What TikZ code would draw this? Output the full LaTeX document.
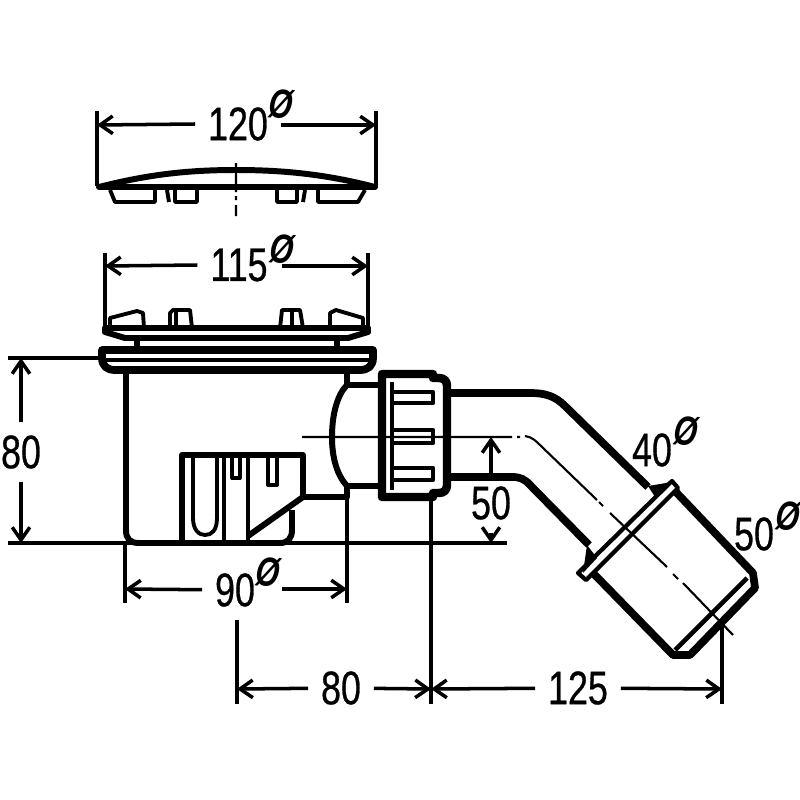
\documentclass[tikz,border=0pt]{standalone}
\usepackage{fontspec}
\newfontfamily\dimfont[FakeStretch=0.76,FakeBold=0.6]{Liberation Sans}
\setmainfont{Liberation Sans}
\usetikzlibrary{arrows.meta}

\newcommand{\dia}{\rotatebox{-8}{\scalebox{0.95}[1.3]{Ø}}}

\tikzset{
  wall/.style={line width=1.7pt, line join=round},
  pipe/.style={line width=2.2pt, line join=round},
  part/.style={line width=1.1pt, line join=round},
  dimline/.style={line width=1pt, >={Straight Barb[length=3.6pt,width=5pt]}},
  axisline/.style={line width=0.6pt},
  numlabel/.style={inner sep=3.5pt, font=\dimfont\fontsize{13.4pt}{14pt}\selectfont},
  dialabel/.style={inner sep=0pt, font=\bfseries\itshape\fontsize{9pt}{9pt}\selectfont},
}

\begin{document}
\begin{tikzpicture}[x=0.01cm, y=-0.01cm]
    \useasboundingbox (0, 0) rectangle (800, 800);

    % cover
    \draw[wall] (99, 187) .. controls (150, 174) and (190, 170) .. (236, 170)
                .. controls (282, 170) and (325, 174) .. (375, 187) -- cycle;
    \draw[part] (110, 190) -- (115, 202) -- (155, 202) -- (155, 190)
                (167, 190) -- (169, 202)
                (175, 190) -- (175, 202) -- (197, 202) -- (197, 190)
                (277, 190) -- (277, 202) -- (297, 202) -- (297, 190)
                (305, 190) -- (303, 202)
                (318, 190) -- (318, 202) -- (358, 202) -- (365, 190);

    % grate with clips
    \draw[wall] (105, 328) -- (368, 328) -- (368, 332) -- (348, 338) -- (125, 338) -- (105, 332) -- cycle;
    \draw[part] (110, 328) -- (110, 318) -- (137, 311) -- (143, 313) -- (144, 328)
                (170, 328) -- (170, 313) -- (173, 310) -- (190, 310) -- (192, 328)
                (176, 311) -- (176, 328)
                (280, 328) -- (282, 310) -- (300, 310) -- (303, 328)
                (292, 311) -- (292, 328)
                (330, 328) -- (330, 313) -- (336, 310) -- (363, 318) -- (363, 328);
    \draw[wall] (137, 338) -- (137, 348) (337, 338) -- (337, 348);

    % flange
    \draw[pipe] (102, 350) -- (373, 350) -- (373, 358)
                .. controls (373, 366) and (368, 370) .. (360, 370) -- (115, 370)
                .. controls (107, 370) and (102, 366) .. (102, 358) -- cycle;
    \draw[wall, line width=1.4pt] (106, 360) -- (369, 360);

    % body
    \draw[wall] (126, 370) -- (126, 530) .. controls (126, 539) and (130, 543) .. (139, 543)
                -- (280, 543) .. controls (288, 543) and (292, 538) .. (292, 530) -- (292, 510);
    \draw[wall] (347, 370) -- (347, 386);
    \draw[wall] (347, 486) -- (347, 497) -- (303, 497);

    % window
    \draw[wall] (182, 543) -- (182, 455) -- (303, 455) -- (303, 497) -- (248, 536);
    \draw[part] (193, 458) -- (193, 518) .. controls (193, 530) and (199, 535) .. (205, 535)
                .. controls (212, 535) and (217, 530) .. (217, 518) -- (217, 458);
    \draw[part] (224, 458) -- (224, 541) (248, 458) -- (248, 541);
    \draw[part] (232, 458) -- (232, 478) -- (240, 478) -- (240, 458)
                (268, 458) -- (268, 485) -- (277, 485) -- (277, 458);

    % bulge
    \draw[wall] (378, 385) -- (347, 385) .. controls (337, 395) and (332, 415) .. (332, 437)
                .. controls (332, 458) and (337, 475) .. (347, 486) -- (378, 486);

    % nut
    \draw[pipe, line width=2.4pt] (382, 374) -- (433, 374) -- (433, 378) -- (439, 378)
                .. controls (444, 378) and (447, 381) .. (447, 386) -- (447, 485)
                .. controls (447, 490) and (444, 493) .. (439, 493) -- (433, 493) -- (433, 497) -- (382, 497) -- cycle;
    \draw[wall, line width=1.2pt] (392, 382) -- (392, 490);
    \draw[part, line width=1.2pt] (392, 392) -- (433, 392) -- (433, 403) -- (392, 403)
                (392, 430) -- (433, 430) -- (433, 443) -- (392, 443)
                (392, 468) -- (433, 468) -- (433, 480) -- (392, 480);

    % elbow
    \draw[pipe] (451, 393) -- (530, 393) .. controls (545, 393) and (555, 396) .. (565, 406) -- (648, 487);
    \draw[pipe] (451, 477) -- (512, 477) .. controls (520, 477) and (525, 479) .. (531, 486) -- (589, 545);
    \fill (648, 486) -- (672, 482) -- (655, 497) -- cycle
          (587, 545) -- (597, 558) -- (583, 573) -- cycle;

    % socket
    \draw[wall, line width=1.2pt] (672, 481) -- (578, 573) -- (586, 580) -- (678, 488) -- cycle;
    \draw[pipe] (674, 490) -- (753, 573) -- (755, 588) -- (690, 655) -- (673, 655) -- (593, 573);
    \draw[wall, line width=1.3pt] (747, 578) -- (675, 650);

    % axis
    \draw[axisline] (302, 437) -- (512, 437)
                    (517, 437) -- (520, 437)
                    (525, 436) .. controls (532, 437) and (536, 441) .. (540, 445) -- (597, 500)
                    (599, 502) -- (603, 506)
                    (610, 513) -- (667, 567)
                    (673, 574) -- (678, 579)
                    (683, 583) -- (733, 635)
                    (236, 163) -- (236, 192)
                    (236, 196) -- (236, 200)
                    (236, 205) -- (236, 216);

    % 120
    \coordinate(l120) at (97, 125);
    \coordinate(r120) at (376, 125);
    \node[numlabel](t120) at (238, 124) {120};
    \node[dialabel](d120) at (281, 104) {\dia};
    \draw[dimline] (97, 111) -- (97, 186) (376, 111) -- (376, 186);
    \draw[dimline, ->] (t120.west) -- (l120);
    \draw[dimline, ->] (d120.south |- r120) -- (r120);

    % 115
    \coordinate(l115) at (105, 266);
    \coordinate(r115) at (368, 266);
    \node[numlabel](t115) at (239, 265) {115};
    \node[dialabel](d115) at (282, 249) {\dia};
    \draw[dimline] (105, 253) -- (105, 330) (368, 253) -- (368, 330);
    \draw[dimline, ->] (t115.west) -- (l115);
    \draw[dimline, ->] (d115.south |- r115) -- (r115);

    % 80 height
    \coordinate(a80) at (21, 358);
    \coordinate(b80) at (21, 543);
    \node[numlabel](t80) at (21, 452) {80};
    \draw[dimline] (8, 358) -- (101, 358) (8, 543) -- (507, 543);
    \draw[dimline, ->] (t80) -- (a80);
    \draw[dimline, ->] (t80) -- (b80);

    % 90
    \coordinate(l90) at (125, 589);
    \coordinate(r90) at (347, 589);
    \node[numlabel](t90) at (235, 590) {90};
    \node[dialabel](d90) at (268, 572) {\dia};
    \draw[dimline] (125, 543) -- (125, 603) (347, 497) -- (347, 603);
    \draw[dimline, ->] (t90) -- (l90);
    \draw[dimline, ->] (d90.south east |- r90) -- (r90);

    % 50 height
    \coordinate(a50) at (491, 437);
    \coordinate(b50) at (491, 543);
    \node[numlabel](t50) at (491, 503) {50};
    \draw[dimline, ->] (t50) -- (a50);
    \draw[dimline, ->] (t50) -- (b50);

    % 80 and 125
    \coordinate(l80) at (237, 689);
    \coordinate(m80) at (431, 689);
    \coordinate(r125) at (722, 689);
    \node[numlabel](t80b) at (341, 688) {80};
    \node[numlabel](t125) at (578, 688) {125};
    \draw[dimline] (237, 620) -- (237, 704) (431, 496) -- (431, 704) (722, 620) -- (722, 704);
    \draw[dimline, ->] (t80b) -- (l80);
    \draw[dimline, ->] (t80b) -- (m80);
    \draw[dimline, ->] (t125) -- (m80);
    \draw[dimline, ->] (t125) -- (r125);

    % pipe sizes
    \node[numlabel](t40) at (652, 450) {40};
    \node[dialabel](d40) at (686, 431) {\dia};
    \node[numlabel](t50b) at (754, 534) {50};
    \node[dialabel](d50) at (788, 516) {\dia};
\end{tikzpicture}
\end{document}
